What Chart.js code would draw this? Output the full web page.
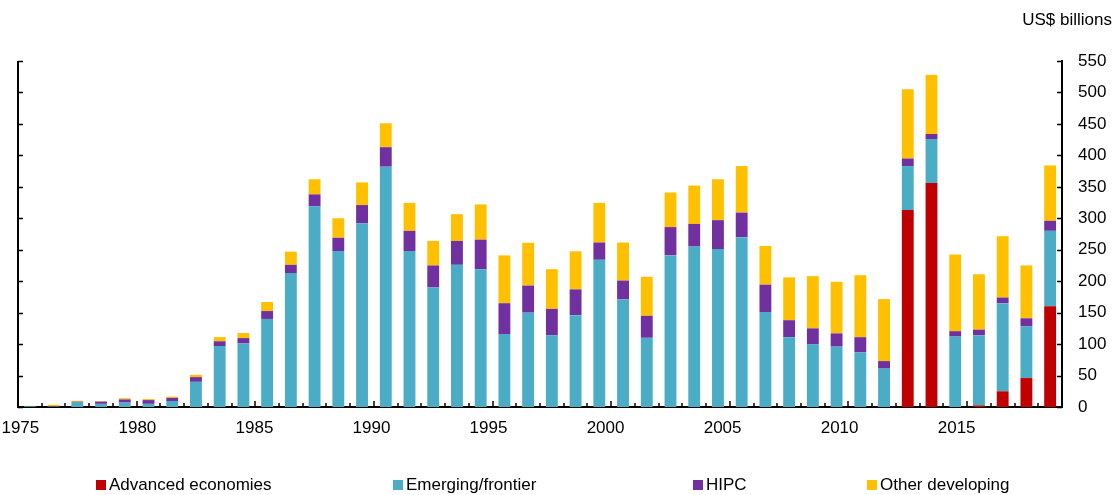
<!DOCTYPE html>
<html lang="en">
<head>
    <meta charset="UTF-8">
    <title>Bond issuance by country group</title>
    <style>
        body { margin: 0; background: #fff; font-family: "Liberation Sans", Arial, sans-serif; }
        #wrap { position: relative; width: 1117px; height: 495px; }
        #chart { position: absolute; left: 0; top: 0; }
        #unit { position: absolute; right: 5px; top: 10px; font-size: 17px; color: #000; }
        .leg { position: absolute; top: 475px; font-size: 17px; color: #000; white-space: nowrap; }
        .leg span { display: inline-block; width: 10px; height: 10px; margin-right: 3px; }
    </style>
</head>
<body>
<div id="wrap">
    <canvas id="chart" width="1117" height="495"></canvas>
    <div id="unit">US$ billions</div>
    <div id="legend"></div>
</div>
<script src="https://cdn.jsdelivr.net/npm/chart.js"></script>
<script>
    const years = [];
    for (let y = 1975; y <= 2018; y++) years.push(y);

    const advanced = [0, 0, 0, 0, 0, 0, 0, 0, 0, 0,
        0, 0, 0, 0, 0, 0, 0, 0, 0, 0,
        0, 0, 0, 0, 0, 0, 0, 0, 0, 0,
        0, 0, 0, 0, 0, 0, 0, 313, 356, 0,
        2.5, 25, 46, 160];
    const emerging = [1, 0.5, 8, 5, 7, 5, 9.5, 40, 97, 101,
        140, 213, 319, 248, 292, 382, 248, 190, 226, 219,
        116, 150, 114, 146, 234, 171, 110, 241, 255, 251,
        270, 151, 111, 100, 96, 87, 61, 70, 70, 112,
        111.5, 140, 82, 120];
    const hipc = [0.3, 1, 0.5, 3.5, 5, 6, 5, 7.5, 7.5, 8.5,
        12.5, 13, 19, 21, 29, 31, 32, 35, 38, 47,
        49, 43, 42, 41, 27.5, 30, 35, 45, 36, 46,
        39, 43.5, 27, 25, 21, 24, 12, 12, 8, 8.5,
        9, 9, 13, 16];
    const other = [0.5, 2, 1.5, 1, 2, 1.6, 2, 3.7, 6.6, 8,
        14.5, 21, 24, 31, 36, 38, 44.5, 39, 42.5, 56,
        76, 68, 63, 60.5, 63, 60.5, 62, 55, 61, 65,
        74, 61.5, 68, 83, 82, 98.5, 98.5, 110, 94, 122,
        88, 97.5, 84, 88];
    const xTickYears = [1975, 1980, 1985, 1990, 1995, 2000, 2005, 2010, 2015];

    const series = [
        { label: 'Advanced economies', data: advanced, color: '#C00000', left: 96 },
        { label: 'Emerging/frontier', data: emerging, color: '#4BACC6', left: 393 },
        { label: 'HIPC', data: hipc, color: '#7030A0', left: 693 },
        { label: 'Other developing', data: other, color: '#FFC000', left: 867 }
    ];

    // legende en HTML, positions comme dans l'original
    const legend = document.getElementById('legend');
    series.forEach(s => {
        const d = document.createElement('div');
        d.className = 'leg';
        d.style.left = s.left + 'px';
        d.innerHTML = `<span style="background:${s.color}"></span>${s.label}`;
        legend.appendChild(d);
    });

    // petits traits de graduation vers l'interieur + axe gauche
    const innerTicks = {
        id: 'innerTicks',
        afterDraw(chart) {
            const ctx = chart.ctx;
            const area = chart.chartArea;
            const x = chart.scales.x;
            const y = chart.scales.y;
            ctx.save();
            ctx.strokeStyle = '#000';
            ctx.lineWidth = 2;
            ctx.beginPath();
            ctx.moveTo(area.left, y.getPixelForValue(550));
            ctx.lineTo(area.left, area.bottom + 1);
            ctx.stroke();
            ctx.lineWidth = 1.5;
            y.ticks.forEach(t => {
                const py = Math.round(y.getPixelForValue(t.value)) + 0.5;
                ctx.beginPath();
                ctx.moveTo(area.left, py);
                ctx.lineTo(area.left + 5, py);
                ctx.moveTo(area.right - 5, py);
                ctx.lineTo(area.right, py);
                ctx.stroke();
            });
            for (let i = 1; i < years.length; i++) {
                const px = Math.round((x.getPixelForValue(i - 1) + x.getPixelForValue(i)) / 2);
                const len = years[i] % 5 === 0 ? 6 : 4;
                ctx.beginPath();
                ctx.moveTo(px, area.bottom);
                ctx.lineTo(px, area.bottom - len);
                ctx.stroke();
            }
            ctx.restore();
        }
    };

    Chart.defaults.font.family = '"Liberation Sans", Arial, sans-serif';
    Chart.defaults.font.size = 17;
    Chart.defaults.color = '#000';

    new Chart(document.getElementById('chart'), {
        type: 'bar',
        data: {
            labels: years,
            datasets: series.map(s => ({
                label: s.label,
                data: s.data,
                backgroundColor: s.color,
                borderWidth: 0,
                categoryPercentage: 0.5,
                barPercentage: 1
            }))
        },
        options: {
            responsive: false,
            animation: false,
            layout: { padding: { left: 18, top: 61, right: 0, bottom: 0 } },
            plugins: {
                legend: { display: false },
                tooltip: { enabled: false }
            },
            scales: {
                x: {
                    stacked: true,
                    display: false
                },
                xl: {
                    type: 'linear',
                    position: 'bottom',
                    offset: false,
                    bounds: 'data',
                    min: 1974.9,
                    max: 2019.5,
                    grid: { display: false, drawTicks: false, offset: false },
                    border: { display: true, color: '#000', width: 2 },
                    ticks: {
                        includeBounds: false,
                        padding: 11,
                        maxRotation: 0,
                        autoSkip: false,
                        callback: v => String(v)
                    },
                    afterBuildTicks: scale => {
                        scale.ticks = xTickYears.map(v => ({ value: v }));
                    },
                    afterFit: scale => {
                        scale.height = 88;
                        scale.paddingLeft = 0;
                        scale.paddingRight = 0;
                    }
                },
                y: {
                    stacked: true,
                    position: 'right',
                    min: 0,
                    max: 550,
                    grid: { display: false, drawTicks: false },
                    border: { display: true, color: '#000', width: 2 },
                    ticks: { stepSize: 50, padding: 16 },
                    afterFit: scale => { scale.width = 55; }
                }
            }
        },
        plugins: [innerTicks]
    });
</script>
</body>
</html>
